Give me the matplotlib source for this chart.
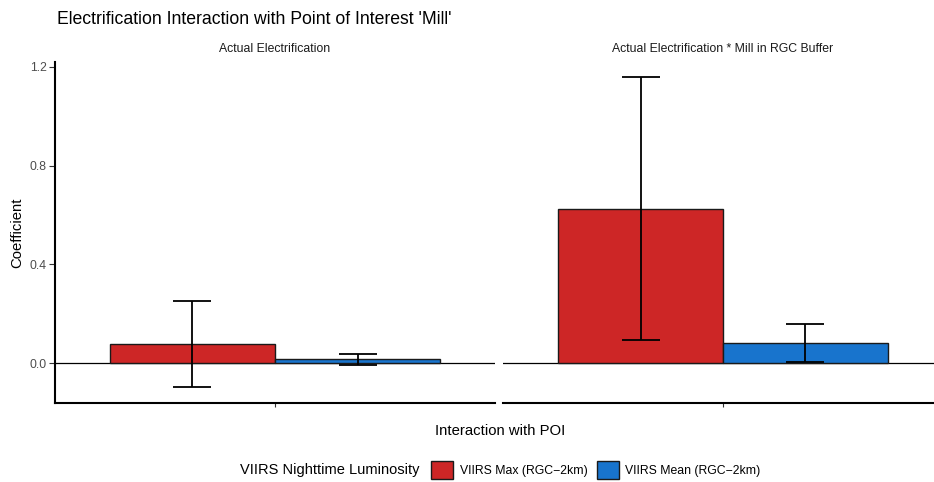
import numpy as np
import matplotlib.pyplot as plt
from matplotlib.patches import Patch

plt.rcParams['font.family'] = ['Liberation Sans', 'DejaVu Sans']

# coefficients with confidence bounds per facet
panels = ['Actual Electrification', 'Actual Electrification * Mill in RGC Buffer']
series = ['VIIRS Max (RGC\u22122km)', 'VIIRS Mean (RGC\u22122km)']
coef = [[0.076, 0.015], [0.625, 0.081]]
lower = [[-0.099, -0.010], [0.094, 0.003]]
upper = [[0.253, 0.036], [1.160, 0.158]]
colors = ['#CD2626', '#1874CD']

fig = plt.figure(figsize=(9.34, 4.82), dpi=100)
W, H = 934, 482

def px_axes(x0, y_top, w, h):
    return fig.add_axes([x0 / W, 1 - (y_top + h) / H, w / W, h / H])

axes = [px_axes(55, 62, 440, 341), px_axes(503, 62, 440, 341)]

bw = 0.45
offs = [-bw / 2, bw / 2]
for i, ax in enumerate(axes):
    for j in range(2):
        x = 1 + offs[j]
        ax.bar(x, coef[i][j], width=bw, color=colors[j], edgecolor='#1a1a1a', linewidth=1.0, zorder=2)
        ax.errorbar(x, coef[i][j], yerr=[[coef[i][j] - lower[i][j]], [upper[i][j] - coef[i][j]]],
                    fmt='none', ecolor='black', elinewidth=1.3, capsize=13.5, capthick=1.3, zorder=3)
    ax.axhline(0, color='black', linewidth=0.9, zorder=1)
    ax.set_xlim(0.4, 1.6)
    ax.set_ylim(-0.162, 1.22)
    ax.set_xticks([1])
    ax.set_xticklabels([''])
    ax.tick_params(axis='x', length=3, width=0.8, color='#333333')
    for s in ['top', 'right']:
        ax.spines[s].set_visible(False)
    ax.spines['bottom'].set_linewidth(1.5)
    ax.set_title(panels[i], fontsize=8.8, color='#1a1a1a', pad=7)
    ax.patch.set_alpha(0)

axes[0].set_yticks([0.0, 0.4, 0.8, 1.2])
axes[0].set_yticklabels(['0.0', '0.4', '0.8', '1.2'], fontsize=8.8, color='#4d4d4d')
axes[0].tick_params(axis='y', length=4, width=0.8, color='#333333', pad=2)
axes[0].spines['left'].set_linewidth(1.5)
axes[0].set_ylabel('Coefficient', fontsize=10.7, labelpad=4)
axes[1].spines['left'].set_visible(False)
axes[1].set_yticks([])

fig.text(57 / W, 1 - 20 / H, "Electrification Interaction with Point of Interest 'Mill'",
         fontsize=12.7, va='center', ha='left')
fig.text(500 / W, 1 - 431 / H, 'Interaction with POI', fontsize=10.7, ha='center', va='center')

fig.text(240 / W, 1 - 470 / H, 'VIIRS Nighttime Luminosity', fontsize=10.5, ha='left', va='center')
handles = [Patch(facecolor=c, edgecolor='#1a1a1a', linewidth=1.0) for c in colors]
fig.legend(handles, series, loc='center left', bbox_to_anchor=(431 / W, 1 - 470 / H), ncol=2,
           frameon=False, fontsize=8.8, handlelength=1.8, handleheight=1.8, borderpad=0,
           handletextpad=0.55, columnspacing=0.75, borderaxespad=0)

fig.savefig('out.png', dpi=100)
